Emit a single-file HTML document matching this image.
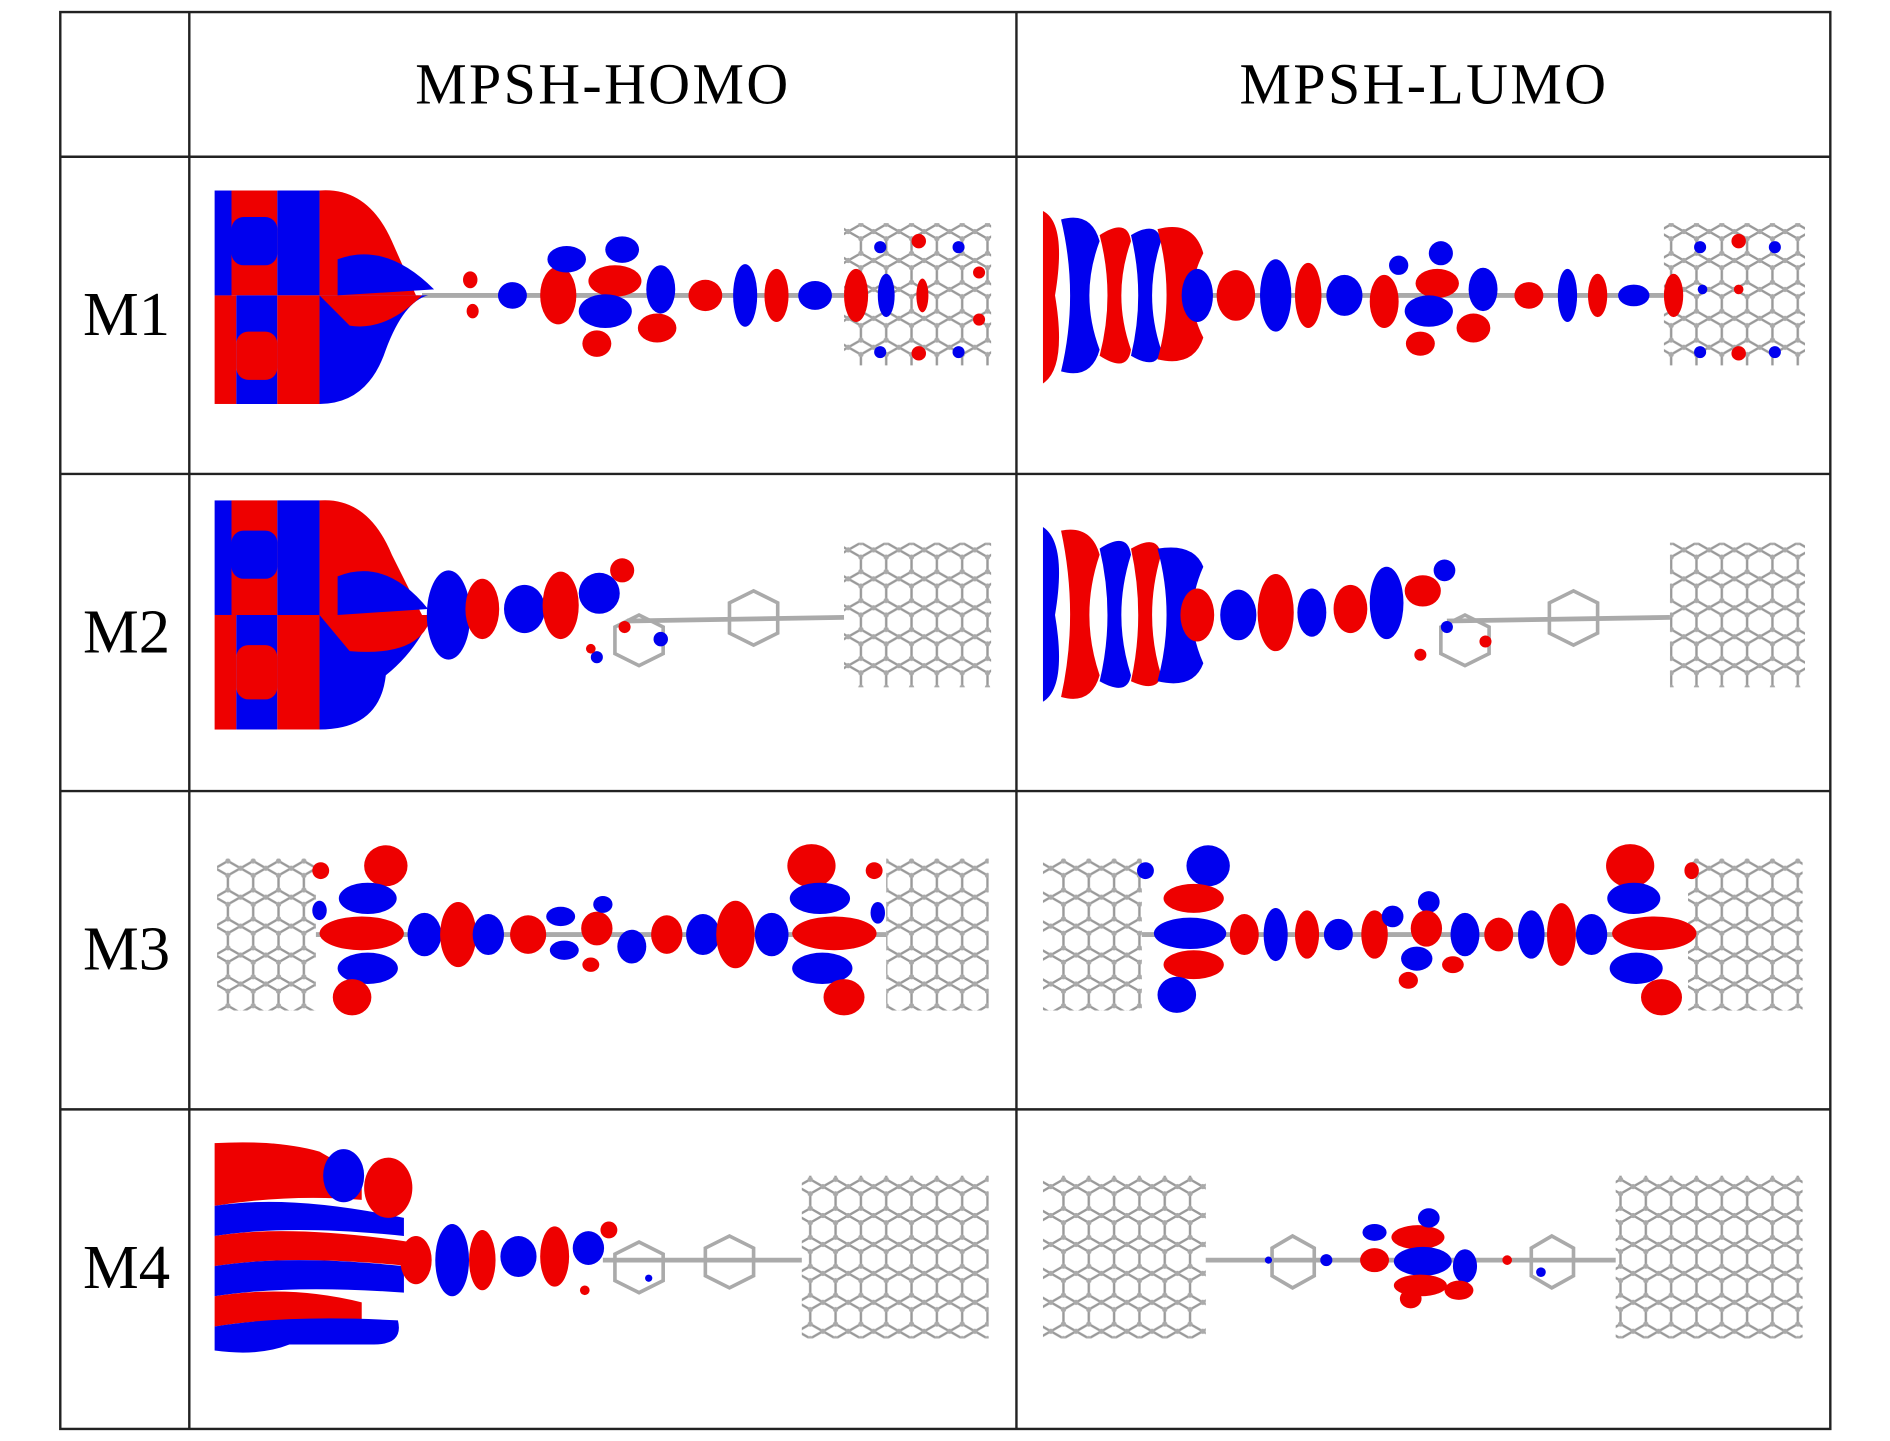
<!DOCTYPE html>
<html><head><meta charset="utf-8"><style>
html,body{margin:0;padding:0;background:#fff;}
svg{display:block;}
</style></head><body>
<svg width="1890" height="1441" viewBox="0 0 1567.5 1195" preserveAspectRatio="none" xmlns="http://www.w3.org/2000/svg">
<defs>
<pattern id="hex" width="21" height="24" patternUnits="userSpaceOnUse">
<path d="M0 6 L10.5 0 L21 6 M0 6 V18 L10.5 24 L21 18 V6" fill="none" stroke="#999" stroke-width="2"/>
<circle cx="0" cy="6" r="2.2" fill="#aaa"/><circle cx="10.5" cy="0" r="2.2" fill="#aaa"/><circle cx="21" cy="6" r="2.2" fill="#aaa"/>
<circle cx="0" cy="18" r="2.2" fill="#aaa"/><circle cx="21" cy="18" r="2.2" fill="#aaa"/><circle cx="10.5" cy="24" r="2.2" fill="#aaa"/>
</pattern>
</defs>
<rect width="1570" height="1200" fill="#fff"/>
<g fill="url(#hex)">
<rect x="700" y="185" width="122" height="118"/>
<rect x="1380" y="185" width="117" height="118"/>
<rect x="700" y="450" width="122" height="120"/>
<rect x="1385" y="450" width="112" height="120"/>
<rect x="180" y="712" width="82" height="126"/>
<rect x="735" y="712" width="85" height="126"/>
<rect x="865" y="712" width="82" height="126"/>
<rect x="1400" y="712" width="95" height="126"/>
<rect x="665" y="975" width="155" height="135"/>
<rect x="865" y="975" width="135" height="135"/>
<rect x="1340" y="975" width="155" height="135"/>
</g>
<g stroke="#aaa" stroke-width="4">
<line x1="350" y1="245" x2="700" y2="245"/><line x1="990" y1="245" x2="1380" y2="245"/>
<line x1="520" y1="515" x2="700" y2="512"/><line x1="1200" y1="515" x2="1385" y2="512"/>
<line x1="500" y1="1045" x2="665" y2="1045"/><line x1="1000" y1="1045" x2="1340" y2="1045"/>
<line x1="262" y1="775" x2="735" y2="775"/><line x1="947" y1="775" x2="1400" y2="775"/>
</g>
<g fill="none" stroke="#aaa" stroke-width="3">
<polygon points="605,500 625,490 645,500 645,525 625,535 605,525"/>
<polygon points="1285,500 1305,490 1325,500 1325,525 1305,535 1285,525"/>
<polygon points="510,520 530,510 550,520 550,542 530,552 510,542"/>
<polygon points="1195,520 1215,510 1235,520 1235,542 1215,552 1195,542"/>
<polygon points="585,1035 605,1025 625,1035 625,1058 605,1068 585,1058"/>
<polygon points="510,1040 530,1030 550,1040 550,1062 530,1072 510,1062"/>
<polygon points="1055,1035 1072,1025 1090,1035 1090,1058 1072,1068 1055,1058"/>
<polygon points="1270,1035 1287,1025 1305,1035 1305,1058 1287,1068 1270,1058"/>
</g>
<g>
<rect x="178" y="158" width="14" height="87" fill="#0000ee"/>
<path d="M192 158 H230 V245 H192 Z" fill="#ee0000"/>
<path d="M230 158 H265 V245 H230 Z" fill="#0000ee"/>
<path d="M265 158 Q305 155 325 200 L345 245 H265 Z" fill="#ee0000"/>
<path d="M280 215 Q320 200 360 240 L280 245 Z" fill="#0000ee"/>
<rect x="178" y="245" width="18" height="90" fill="#ee0000"/>
<path d="M196 245 H230 V335 H196 Z" fill="#0000ee"/>
<path d="M230 245 H265 V335 H230 Z" fill="#ee0000"/>
<path d="M265 245 H355 Q335 250 320 290 Q305 335 265 335 Z" fill="#0000ee"/>
<path d="M265 245 H350 Q320 275 290 270 Z" fill="#ee0000"/>
<rect x="192" y="180" width="38" height="40" fill="#0000ee" rx="10"/>
<rect x="196" y="275" width="34" height="40" fill="#ee0000" rx="10"/>
</g>
<g>
<ellipse cx="390" cy="232" rx="6" ry="7" fill="#e00"/><ellipse cx="392" cy="258" rx="5" ry="6" fill="#e00"/>
<ellipse cx="425" cy="245" rx="12" ry="11" fill="#00e"/>
<ellipse cx="463" cy="245" rx="15" ry="24" fill="#e00"/>
<ellipse cx="470" cy="215" rx="16" ry="11" fill="#00e"/>
<ellipse cx="516" cy="207" rx="14" ry="11" fill="#00e"/>
<ellipse cx="510" cy="233" rx="22" ry="13" fill="#e00"/>
<ellipse cx="502" cy="258" rx="22" ry="14" fill="#00e"/>
<ellipse cx="548" cy="240" rx="12" ry="20" fill="#00e"/>
<ellipse cx="545" cy="272" rx="16" ry="12" fill="#e00"/>
<ellipse cx="495" cy="285" rx="12" ry="11" fill="#e00"/>
<ellipse cx="585" cy="245" rx="14" ry="13" fill="#e00"/>
<ellipse cx="618" cy="245" rx="10" ry="26" fill="#00e"/>
<ellipse cx="644" cy="245" rx="10" ry="22" fill="#e00"/>
<ellipse cx="676" cy="245" rx="14" ry="12" fill="#00e"/>
<ellipse cx="710" cy="245" rx="10" ry="22" fill="#e00"/>
<ellipse cx="735" cy="245" rx="7" ry="18" fill="#00e"/>
<ellipse cx="765" cy="245" rx="5" ry="14" fill="#e00"/>
<circle cx="730" cy="205" r="5" fill="#00e"/><circle cx="762" cy="200" r="6" fill="#e00"/><circle cx="795" cy="205" r="5" fill="#00e"/>
<circle cx="730" cy="292" r="5" fill="#00e"/><circle cx="762" cy="293" r="6" fill="#e00"/><circle cx="795" cy="292" r="5" fill="#00e"/>
<circle cx="812" cy="226" r="5" fill="#e00"/><circle cx="812" cy="265" r="5" fill="#e00"/>
</g>
<g>
<path d="M865 175 Q885 185 875 245 Q885 305 865 318 Z" fill="#e00"/>
<path d="M880 182 Q905 175 912 200 Q895 245 912 290 Q905 315 880 308 Q895 245 880 182Z" fill="#00e"/>
<path d="M912 195 Q935 180 938 200 Q922 245 938 290 Q935 310 912 295 Q925 245 912 195Z" fill="#e00"/>
<path d="M938 195 Q960 182 963 200 Q948 245 963 290 Q960 308 938 295 Q950 245 938 195Z" fill="#00e"/>
<path d="M960 190 Q990 182 998 210 Q980 245 998 280 Q990 305 960 298 Q975 245 960 190Z" fill="#e00"/>
<ellipse cx="993" cy="245" rx="13" ry="22" fill="#00e"/>
<ellipse cx="1025" cy="245" rx="16" ry="21" fill="#e00"/>
<ellipse cx="1058" cy="245" rx="13" ry="30" fill="#00e"/>
<ellipse cx="1085" cy="245" rx="11" ry="27" fill="#e00"/>
<ellipse cx="1115" cy="245" rx="15" ry="17" fill="#00e"/>
<ellipse cx="1148" cy="250" rx="12" ry="22" fill="#e00"/>
<ellipse cx="1160" cy="220" rx="8" ry="8" fill="#00e"/>
<ellipse cx="1195" cy="210" rx="10" ry="10" fill="#00e"/>
<ellipse cx="1192" cy="235" rx="18" ry="12" fill="#e00"/>
<ellipse cx="1185" cy="258" rx="20" ry="13" fill="#00e"/>
<ellipse cx="1230" cy="240" rx="12" ry="18" fill="#00e"/>
<ellipse cx="1222" cy="272" rx="14" ry="12" fill="#e00"/>
<ellipse cx="1178" cy="285" rx="12" ry="10" fill="#e00"/>
<ellipse cx="1268" cy="245" rx="12" ry="11" fill="#e00"/>
<ellipse cx="1300" cy="245" rx="8" ry="22" fill="#00e"/>
<ellipse cx="1325" cy="245" rx="8" ry="18" fill="#e00"/>
<ellipse cx="1355" cy="245" rx="13" ry="9" fill="#00e"/>
<ellipse cx="1388" cy="245" rx="8" ry="18" fill="#e00"/>
<circle cx="1410" cy="205" r="5" fill="#00e"/><circle cx="1442" cy="200" r="6" fill="#e00"/><circle cx="1472" cy="205" r="5" fill="#00e"/>
<circle cx="1410" cy="292" r="5" fill="#00e"/><circle cx="1442" cy="293" r="6" fill="#e00"/><circle cx="1472" cy="292" r="5" fill="#00e"/>
<circle cx="1412" cy="240" r="4" fill="#00e"/><circle cx="1442" cy="240" r="4" fill="#e00"/>
</g>
<g>
<rect x="178" y="415" width="14" height="95" fill="#00e"/>
<path d="M192 415 H230 V510 H192 Z" fill="#e00"/>
<path d="M230 415 H265 V510 H230 Z" fill="#00e"/>
<path d="M265 415 Q305 412 325 460 L350 510 H265 Z" fill="#e00"/>
<path d="M280 478 Q320 462 355 505 L280 510 Z" fill="#00e"/>
<rect x="178" y="510" width="18" height="95" fill="#e00"/>
<path d="M196 510 H230 V605 H196 Z" fill="#00e"/>
<path d="M230 510 H265 V605 H230 Z" fill="#e00"/>
<path d="M265 510 H358 Q345 540 320 560 Q315 605 265 605 Z" fill="#00e"/>
<path d="M265 510 H358 Q350 545 290 540 Z" fill="#e00"/>
<rect x="192" y="440" width="38" height="40" fill="#00e" rx="10"/>
<rect x="196" y="535" width="34" height="45" fill="#e00" rx="10"/>
<ellipse cx="372" cy="510" rx="18" ry="37" fill="#00e"/>
<ellipse cx="400" cy="505" rx="14" ry="25" fill="#e00"/>
<ellipse cx="435" cy="505" rx="17" ry="20" fill="#00e"/>
<ellipse cx="465" cy="502" rx="15" ry="28" fill="#e00"/>
<ellipse cx="497" cy="492" rx="17" ry="17" fill="#00e"/>
<ellipse cx="516" cy="473" rx="10" ry="10" fill="#e00"/>
<circle cx="518" cy="520" r="5" fill="#e00"/><circle cx="548" cy="530" r="6" fill="#00e"/><circle cx="495" cy="545" r="5" fill="#00e"/><circle cx="490" cy="538" r="4" fill="#e00"/>
</g>
<g>
<path d="M865 437 Q885 450 875 510 Q885 570 865 582 Z" fill="#00e"/>
<path d="M880 440 Q905 435 912 460 Q895 510 912 560 Q905 585 880 578 Q895 510 880 440Z" fill="#e00"/>
<path d="M912 455 Q935 440 938 460 Q922 510 938 560 Q935 578 912 565 Q925 510 912 455Z" fill="#00e"/>
<path d="M938 455 Q960 442 963 460 Q948 510 963 560 Q960 575 938 565 Q950 510 938 455Z" fill="#e00"/>
<path d="M960 455 Q990 450 998 470 Q980 510 998 550 Q990 572 960 565 Q975 510 960 455Z" fill="#00e"/>
<ellipse cx="993" cy="510" rx="14" ry="22" fill="#e00"/>
<ellipse cx="1027" cy="510" rx="15" ry="21" fill="#00e"/>
<ellipse cx="1058" cy="508" rx="15" ry="32" fill="#e00"/>
<ellipse cx="1088" cy="508" rx="12" ry="20" fill="#00e"/>
<ellipse cx="1120" cy="505" rx="14" ry="20" fill="#e00"/>
<ellipse cx="1150" cy="500" rx="14" ry="30" fill="#00e"/>
<ellipse cx="1180" cy="490" rx="15" ry="13" fill="#e00"/>
<ellipse cx="1198" cy="473" rx="9" ry="9" fill="#00e"/>
<circle cx="1200" cy="520" r="5" fill="#00e"/><circle cx="1232" cy="532" r="5" fill="#e00"/><circle cx="1178" cy="543" r="5" fill="#e00"/>
</g>
<g>
<ellipse cx="320" cy="718" rx="18" ry="17" fill="#e00"/>
<ellipse cx="305" cy="745" rx="24" ry="13" fill="#00e"/>
<ellipse cx="300" cy="774" rx="35" ry="14" fill="#e00"/>
<ellipse cx="305" cy="803" rx="25" ry="13" fill="#00e"/>
<ellipse cx="292" cy="827" rx="16" ry="15" fill="#e00"/>
<ellipse cx="266" cy="722" rx="7" ry="7" fill="#e00"/><ellipse cx="265" cy="755" rx="6" ry="8" fill="#00e"/>
<ellipse cx="352" cy="775" rx="14" ry="18" fill="#00e"/>
<ellipse cx="380" cy="775" rx="15" ry="27" fill="#e00"/>
<ellipse cx="405" cy="775" rx="13" ry="17" fill="#00e"/>
<ellipse cx="438" cy="775" rx="15" ry="16" fill="#e00"/>
<ellipse cx="465" cy="760" rx="12" ry="8" fill="#00e"/><ellipse cx="468" cy="788" rx="12" ry="8" fill="#00e"/>
<ellipse cx="495" cy="770" rx="13" ry="14" fill="#e00"/><ellipse cx="500" cy="750" rx="8" ry="7" fill="#00e"/>
<ellipse cx="524" cy="785" rx="12" ry="14" fill="#00e"/><ellipse cx="490" cy="800" rx="7" ry="6" fill="#e00"/>
<ellipse cx="553" cy="775" rx="13" ry="16" fill="#e00"/>
<ellipse cx="583" cy="775" rx="14" ry="17" fill="#00e"/>
<ellipse cx="610" cy="775" rx="16" ry="28" fill="#e00"/>
<ellipse cx="640" cy="775" rx="14" ry="18" fill="#00e"/>
<ellipse cx="673" cy="718" rx="20" ry="18" fill="#e00"/>
<ellipse cx="680" cy="745" rx="25" ry="13" fill="#00e"/>
<ellipse cx="692" cy="774" rx="35" ry="14" fill="#e00"/>
<ellipse cx="682" cy="803" rx="25" ry="13" fill="#00e"/>
<ellipse cx="700" cy="827" rx="17" ry="15" fill="#e00"/>
<ellipse cx="725" cy="722" rx="7" ry="7" fill="#e00"/><ellipse cx="728" cy="757" rx="6" ry="9" fill="#00e"/>
</g>
<g>
<ellipse cx="1002" cy="718" rx="18" ry="17" fill="#00e"/>
<ellipse cx="990" cy="745" rx="25" ry="12" fill="#e00"/>
<ellipse cx="987" cy="774" rx="30" ry="13" fill="#00e"/>
<ellipse cx="990" cy="800" rx="25" ry="12" fill="#e00"/>
<ellipse cx="976" cy="825" rx="16" ry="15" fill="#00e"/>
<ellipse cx="950" cy="722" rx="7" ry="7" fill="#00e"/>
<ellipse cx="1032" cy="775" rx="12" ry="17" fill="#e00"/>
<ellipse cx="1058" cy="775" rx="10" ry="22" fill="#00e"/>
<ellipse cx="1084" cy="775" rx="10" ry="20" fill="#e00"/>
<ellipse cx="1110" cy="775" rx="12" ry="13" fill="#00e"/>
<ellipse cx="1140" cy="775" rx="11" ry="20" fill="#e00"/>
<ellipse cx="1155" cy="760" rx="9" ry="9" fill="#00e"/><ellipse cx="1185" cy="748" rx="9" ry="9" fill="#00e"/>
<ellipse cx="1183" cy="770" rx="13" ry="15" fill="#e00"/><ellipse cx="1175" cy="795" rx="13" ry="10" fill="#00e"/>
<ellipse cx="1215" cy="775" rx="12" ry="18" fill="#00e"/><ellipse cx="1205" cy="800" rx="9" ry="7" fill="#e00"/>
<ellipse cx="1168" cy="813" rx="8" ry="7" fill="#e00"/>
<ellipse cx="1243" cy="775" rx="12" ry="14" fill="#e00"/>
<ellipse cx="1270" cy="775" rx="11" ry="20" fill="#00e"/>
<ellipse cx="1295" cy="775" rx="12" ry="26" fill="#e00"/>
<ellipse cx="1320" cy="775" rx="13" ry="17" fill="#00e"/>
<ellipse cx="1352" cy="718" rx="20" ry="18" fill="#e00"/>
<ellipse cx="1355" cy="745" rx="22" ry="13" fill="#00e"/>
<ellipse cx="1372" cy="774" rx="35" ry="14" fill="#e00"/>
<ellipse cx="1357" cy="803" rx="22" ry="13" fill="#00e"/>
<ellipse cx="1378" cy="827" rx="17" ry="15" fill="#e00"/>
<ellipse cx="1403" cy="722" rx="6" ry="7" fill="#e00"/>
</g>
<g>
<path d="M178 948 Q230 945 265 955 L300 975 L300 995 Q240 990 178 1000 Z" fill="#e00"/>
<path d="M178 1000 Q240 990 335 1010 L335 1025 Q240 1015 178 1025 Z" fill="#00e"/>
<path d="M178 1025 Q240 1015 340 1030 L340 1050 Q240 1040 178 1050 Z" fill="#e00"/>
<path d="M178 1050 Q240 1040 335 1050 L335 1072 Q240 1065 178 1075 Z" fill="#00e"/>
<path d="M178 1075 Q240 1065 300 1080 L300 1100 Q240 1090 178 1100 Z" fill="#e00"/>
<path d="M178 1100 Q240 1090 330 1095 Q335 1115 310 1115 L240 1115 Q215 1125 178 1120 Z" fill="#00e"/>
<ellipse cx="285" cy="975" rx="17" ry="22" fill="#00e"/>
<ellipse cx="322" cy="985" rx="20" ry="25" fill="#e00"/>
<ellipse cx="345" cy="1045" rx="13" ry="20" fill="#e00"/>
<ellipse cx="375" cy="1045" rx="14" ry="30" fill="#00e"/>
<ellipse cx="400" cy="1045" rx="11" ry="25" fill="#e00"/>
<ellipse cx="430" cy="1042" rx="15" ry="17" fill="#00e"/>
<ellipse cx="460" cy="1042" rx="12" ry="25" fill="#e00"/>
<ellipse cx="488" cy="1035" rx="13" ry="14" fill="#00e"/>
<ellipse cx="505" cy="1020" rx="7" ry="7" fill="#e00"/>
<circle cx="485" cy="1070" r="4" fill="#e00"/><circle cx="538" cy="1060" r="3" fill="#00e"/>
</g>
<g>
<ellipse cx="1140" cy="1045" rx="12" ry="10" fill="#e00"/>
<ellipse cx="1140" cy="1022" rx="10" ry="7" fill="#00e"/>
<ellipse cx="1176" cy="1026" rx="22" ry="10" fill="#e00"/>
<ellipse cx="1180" cy="1046" rx="24" ry="12" fill="#00e"/>
<ellipse cx="1178" cy="1066" rx="22" ry="9" fill="#e00"/>
<ellipse cx="1185" cy="1010" rx="9" ry="8" fill="#00e"/>
<ellipse cx="1215" cy="1050" rx="10" ry="14" fill="#00e"/>
<ellipse cx="1210" cy="1070" rx="12" ry="8" fill="#e00"/>
<ellipse cx="1170" cy="1077" rx="9" ry="8" fill="#e00"/>
<circle cx="1100" cy="1045" r="5" fill="#00e"/><circle cx="1052" cy="1045" r="3" fill="#00e"/>
<circle cx="1250" cy="1045" r="4" fill="#e00"/><circle cx="1278" cy="1055" r="4" fill="#00e"/>
</g>
<g stroke="#222" stroke-width="2" fill="none">
<rect x="50" y="10" width="1468" height="1175"/>
<line x1="157" y1="10" x2="157" y2="1185"/>
<line x1="843" y1="10" x2="843" y2="1185"/>
<line x1="50" y1="130" x2="1518" y2="130"/>
<line x1="50" y1="393" x2="1518" y2="393"/>
<line x1="50" y1="656" x2="1518" y2="656"/>
<line x1="50" y1="920" x2="1518" y2="920"/>
</g>
<g font-family="Liberation Serif, serif" fill="#000" text-anchor="middle">
<text x="500" y="86" font-size="48" letter-spacing="2">MPSH-HOMO</text>
<text x="1181" y="86" font-size="48" letter-spacing="2">MPSH-LUMO</text>
<text x="105" y="278" font-size="52">M1</text>
<text x="105" y="541" font-size="52">M2</text>
<text x="105" y="804" font-size="52">M3</text>
<text x="105" y="1068" font-size="52">M4</text>
</g>
</svg>
</body></html>
